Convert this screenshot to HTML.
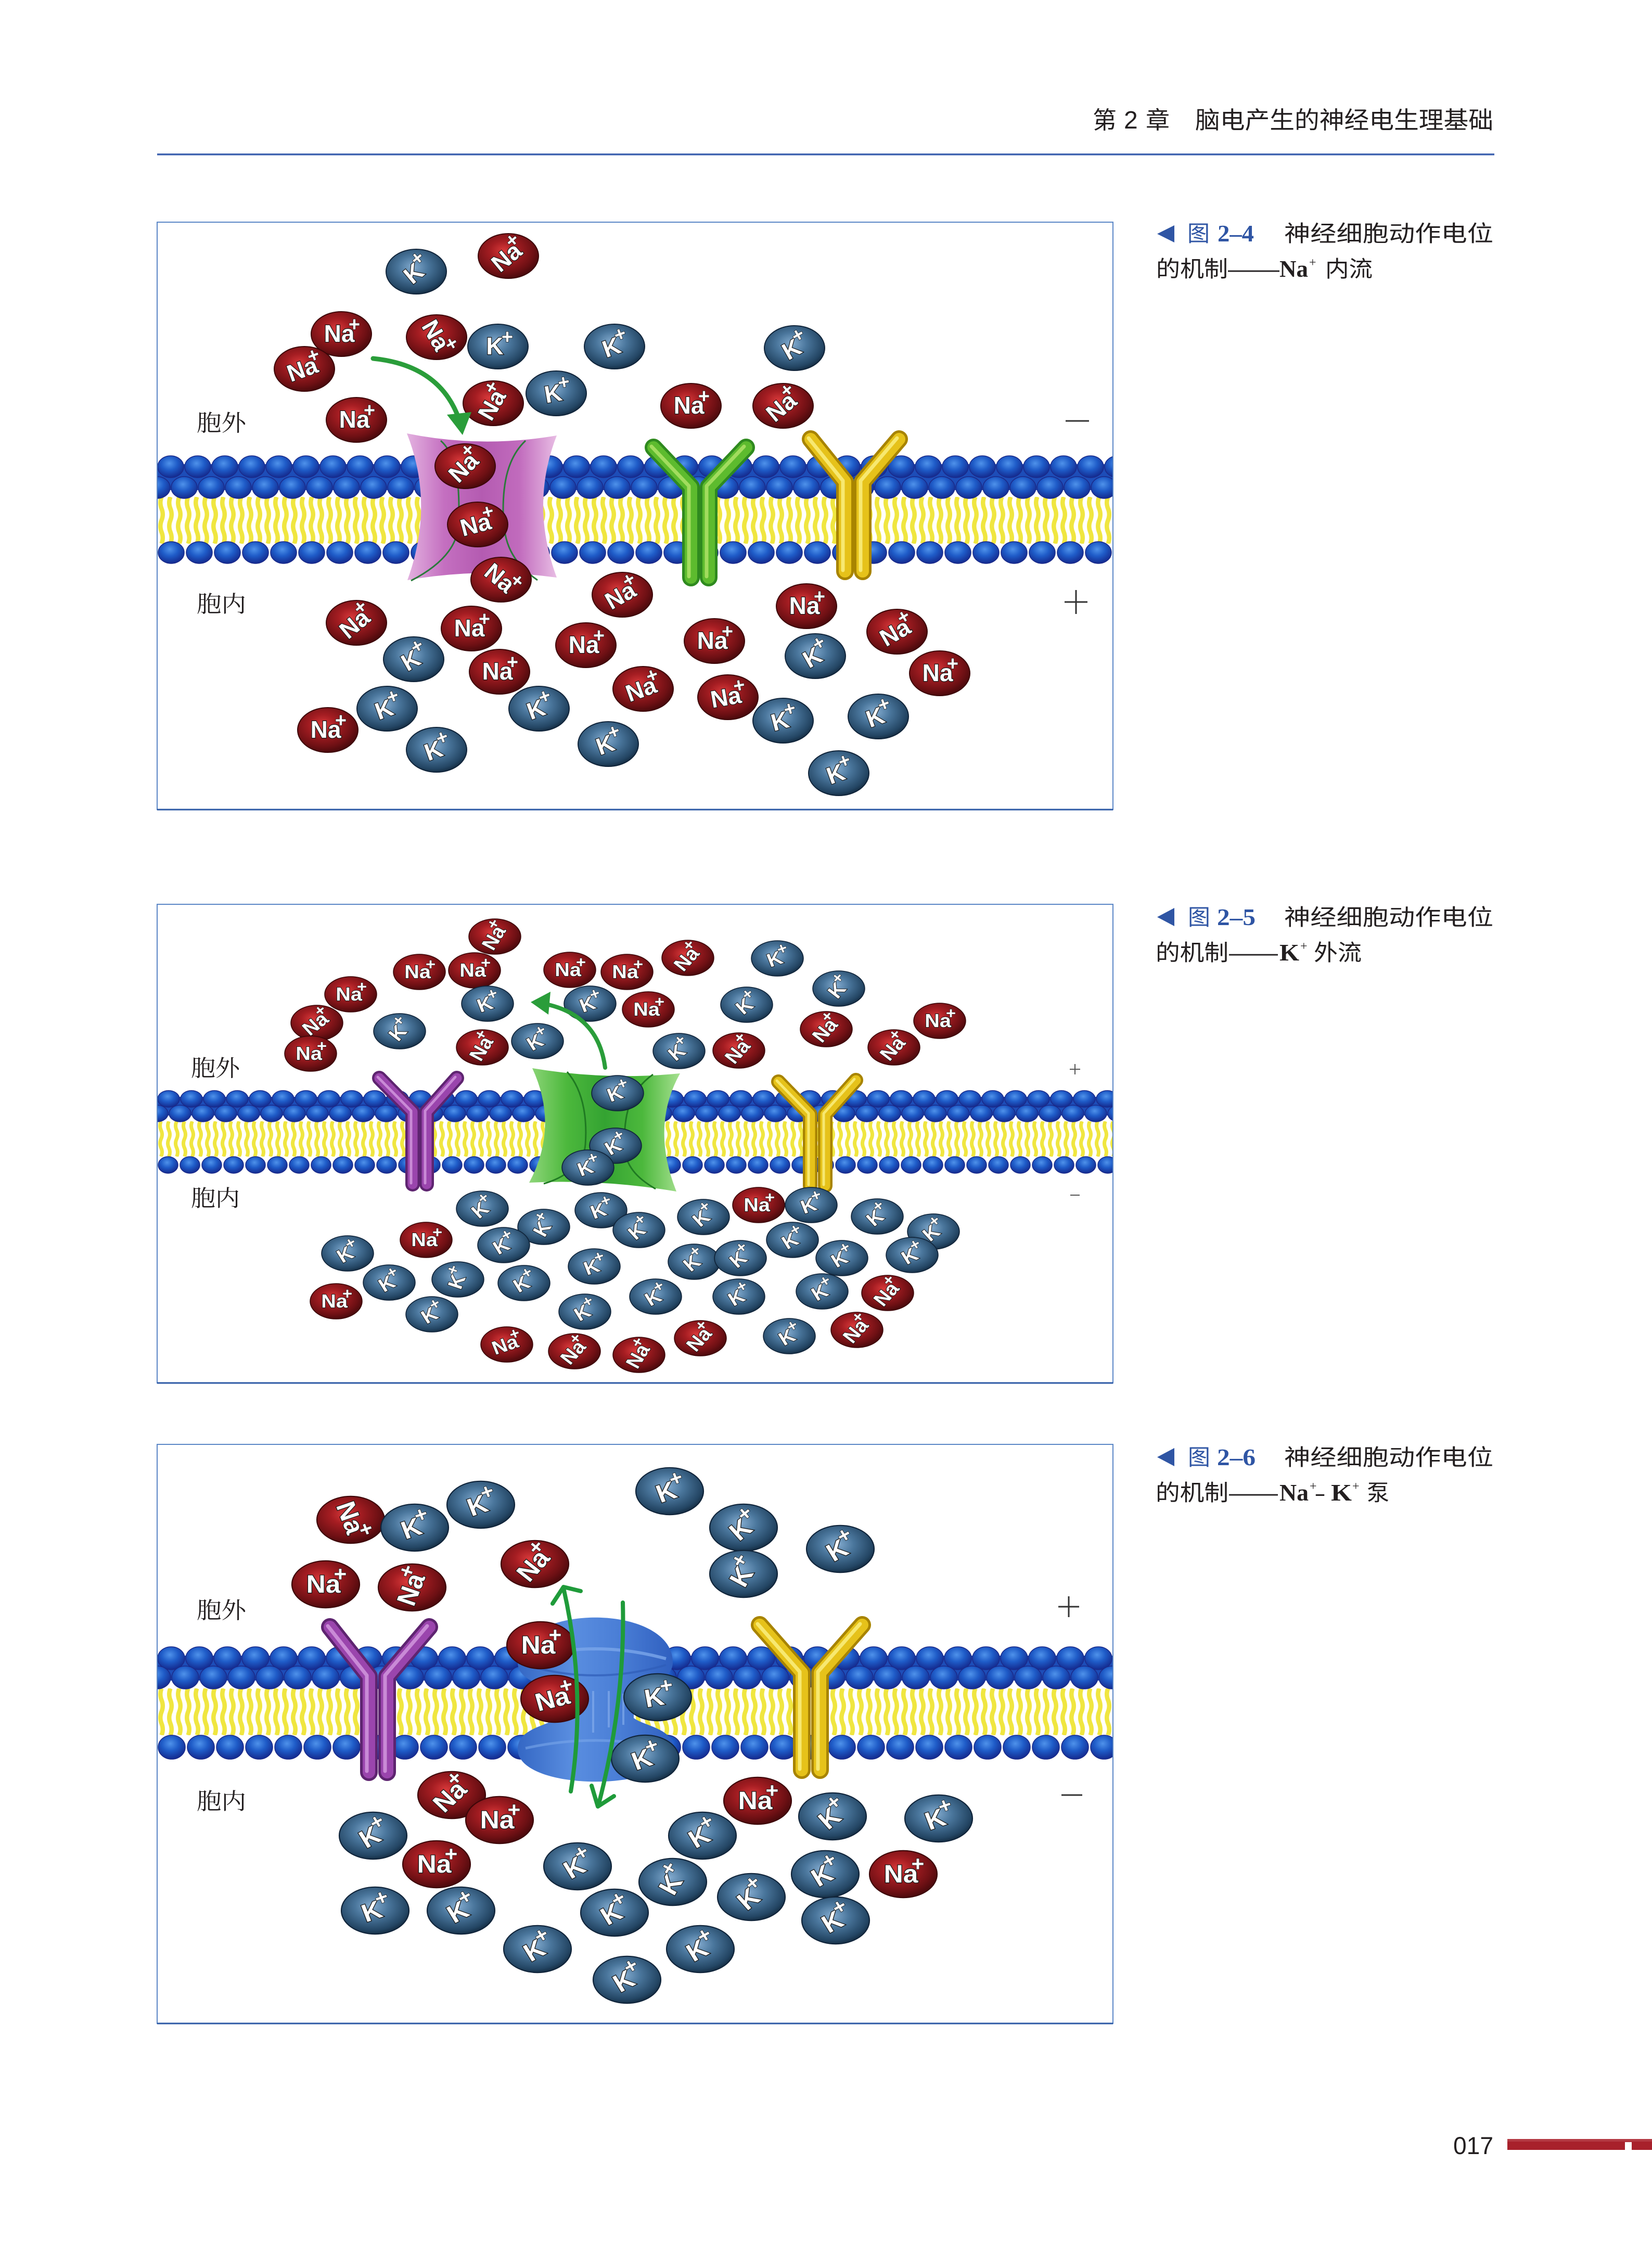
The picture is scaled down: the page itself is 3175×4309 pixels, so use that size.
<!DOCTYPE html>
<html><head><meta charset="utf-8">
<style>
html,body{margin:0;padding:0;background:#fff;}
body{width:3175px;height:4309px;overflow:hidden;}
svg{display:block;}
.na>ellipse{fill:url(#gna);stroke:#3d0709;stroke-width:2}
.k>ellipse{fill:url(#gk);stroke:#10243a;stroke-width:2}
.t{font-family:"Liberation Sans",sans-serif;font-weight:bold;font-size:46px;fill:#fff;stroke:#1a1a1a;stroke-width:2.5px;paint-order:stroke;text-anchor:middle}
.p{font-size:38px;stroke-width:1.5px}
.cj{font-family:"Liberation Sans","Noto Sans CJK SC",sans-serif;fill:#231f20}
.sg{font-family:"Liberation Serif","Noto Serif CJK SC",serif;fill:#231f20;font-size:44px}
.bl{fill:#2f55a4}
.bs{font-family:"Liberation Serif",serif;font-weight:bold}
</style></head>
<body>
<svg width="3175" height="4309" viewBox="0 0 3175 4309" xmlns="http://www.w3.org/2000/svg">
<defs>
<radialGradient id="gna" cx="0.42" cy="0.38" r="0.62"><stop offset="0" stop-color="#d8393a"/><stop offset="0.35" stop-color="#a51d22"/><stop offset="0.8" stop-color="#6e1014"/><stop offset="1" stop-color="#4e0a0d"/></radialGradient>
<radialGradient id="gk" cx="0.45" cy="0.4" r="0.62"><stop offset="0" stop-color="#84acd0"/><stop offset="0.4" stop-color="#4a769c"/><stop offset="0.85" stop-color="#234563"/><stop offset="1" stop-color="#142b40"/></radialGradient>
<radialGradient id="gb" cx="0.45" cy="0.35" r="0.62"><stop offset="0" stop-color="#4f92ea"/><stop offset="0.5" stop-color="#1f5cc8"/><stop offset="1" stop-color="#152f94"/></radialGradient>
<linearGradient id="gpink" x1="0" x2="1" y1="0" y2="0"><stop offset="0" stop-color="#e3b2e0"/><stop offset="0.25" stop-color="#c46fc0"/><stop offset="0.5" stop-color="#b45bb1"/><stop offset="0.75" stop-color="#c16bbd"/><stop offset="1" stop-color="#e8bde4"/></linearGradient>
<linearGradient id="ggreen" x1="0" x2="1" y1="0" y2="0"><stop offset="0" stop-color="#8fd67a"/><stop offset="0.25" stop-color="#4cb83c"/><stop offset="0.5" stop-color="#34a332"/><stop offset="0.75" stop-color="#4cb83c"/><stop offset="1" stop-color="#a6e090"/></linearGradient>
<linearGradient id="gpump" x1="0" x2="1" y1="0" y2="0"><stop offset="0" stop-color="#3467c4"/><stop offset="0.35" stop-color="#5a8ee0"/><stop offset="0.65" stop-color="#4a7ed6"/><stop offset="1" stop-color="#2f5fbf"/></linearGradient>

<pattern id="b1a" patternUnits="userSpaceOnUse" x="302" y="875" width="52" height="44"><ellipse cx="26" cy="22" rx="25" ry="21" fill="url(#gb)" stroke="#1a2a8a" stroke-width="1.5"/></pattern>
<pattern id="b1b" patternUnits="userSpaceOnUse" x="328" y="915" width="52" height="44"><ellipse cx="26" cy="22" rx="25" ry="21" fill="url(#gb)" stroke="#1a2a8a" stroke-width="1.5"/></pattern>
<pattern id="b1c" patternUnits="userSpaceOnUse" x="302" y="1040" width="54" height="44"><ellipse cx="27" cy="22" rx="25" ry="21" fill="url(#gb)" stroke="#1a2a8a" stroke-width="1.5"/></pattern>
<pattern id="y1" patternUnits="userSpaceOnUse" x="302" y="955" width="17" height="90"><path d="M8.5,0 Q4,11.25 8.5,22.5 T8.5,45 T8.5,67.5 T8.5,90" fill="none" stroke="#f0e640" stroke-width="8.5"/></pattern>
<pattern id="b2a" patternUnits="userSpaceOnUse" x="302" y="2095" width="44" height="34"><ellipse cx="22" cy="17" rx="21" ry="16" fill="url(#gb)" stroke="#1a2a8a" stroke-width="1.5"/></pattern>
<pattern id="b2b" patternUnits="userSpaceOnUse" x="324" y="2123" width="44" height="34"><ellipse cx="22" cy="17" rx="21" ry="16" fill="url(#gb)" stroke="#1a2a8a" stroke-width="1.5"/></pattern>
<pattern id="b2c" patternUnits="userSpaceOnUse" x="302" y="2222" width="42" height="34"><ellipse cx="21" cy="17" rx="19" ry="16" fill="url(#gb)" stroke="#1a2a8a" stroke-width="1.5"/></pattern>
<pattern id="y2" patternUnits="userSpaceOnUse" x="302" y="2155" width="15" height="68"><path d="M7.5,0 Q3.5,8.5 7.5,17 T7.5,34 T7.5,51 T7.5,68" fill="none" stroke="#f0e640" stroke-width="7"/></pattern>
<pattern id="b3a" patternUnits="userSpaceOnUse" x="302" y="3164" width="54" height="46"><ellipse cx="27" cy="23" rx="26" ry="22" fill="url(#gb)" stroke="#1a2a8a" stroke-width="1.5"/></pattern>
<pattern id="b3b" patternUnits="userSpaceOnUse" x="329" y="3201" width="54" height="46"><ellipse cx="27" cy="23" rx="26" ry="22" fill="url(#gb)" stroke="#1a2a8a" stroke-width="1.5"/></pattern>
<pattern id="b3c" patternUnits="userSpaceOnUse" x="302" y="3334" width="56" height="48"><ellipse cx="28" cy="24" rx="26" ry="23" fill="url(#gb)" stroke="#1a2a8a" stroke-width="1.5"/></pattern>
<pattern id="y3" patternUnits="userSpaceOnUse" x="302" y="3245" width="17" height="90"><path d="M8.5,0 Q4,11.25 8.5,22.5 T8.5,45 T8.5,67.5 T8.5,90" fill="none" stroke="#f0e640" stroke-width="8.5"/></pattern>

<clipPath id="c1"><rect x="303" y="428" width="1835" height="1127"/></clipPath>
<clipPath id="c2"><rect x="303" y="1739" width="1835" height="918"/></clipPath>
<clipPath id="c3"><rect x="303" y="2777" width="1835" height="1112"/></clipPath>
</defs>

<!-- ===== Header ===== -->
<text class="cj" x="2100" y="247" font-size="46">第</text>
<text x="2160" y="247" font-size="48" font-family="Liberation Sans, sans-serif" fill="#231f20">2</text>
<text class="cj" x="2202" y="247" font-size="46">章</text>
<text class="cj" x="2297" y="247" font-size="46" textLength="573" lengthAdjust="spacingAndGlyphs">脑电产生的神经电生理基础</text>
<rect x="302" y="295" width="2570" height="3.5" fill="#3f63b0"/>

<!-- ===== Captions ===== -->
<g>
<polygon points="2257,433 2257,466 2224,449.5" fill="#2f55a4"/>
<text class="cj bl" x="2282" y="464" font-size="43" style="fill:#2f55a4">图</text>
<text class="bs" x="2340" y="464" font-size="46" fill="#2f55a4" textLength="70" lengthAdjust="spacingAndGlyphs">2–4</text>
<text class="cj" x="2468" y="464" font-size="43" textLength="402" lengthAdjust="spacingAndGlyphs">神经细胞动作电位</text>
<text class="cj" x="2222" y="532" font-size="43" textLength="138" lengthAdjust="spacingAndGlyphs">的机制</text>
<text x="2360" y="532" font-size="43" font-family="Liberation Sans, sans-serif" fill="#231f20" textLength="99" lengthAdjust="spacingAndGlyphs">——</text>
<text class="bs" x="2459" y="532" font-size="46" fill="#231f20" textLength="55" lengthAdjust="spacingAndGlyphs">Na</text>
<text x="2516" y="512" font-size="24" font-family="Liberation Serif, serif" fill="#231f20">+</text>
<text class="cj" x="2547" y="532" font-size="43" textLength="91" lengthAdjust="spacingAndGlyphs">内流</text>
</g>
<g>
<polygon points="2257,1745 2257,1780 2224,1762.5" fill="#2f55a4"/>
<text class="cj" x="2283" y="1778" font-size="43" style="fill:#2f55a4">图</text>
<text class="bs" x="2339" y="1778" font-size="46" fill="#2f55a4" textLength="74" lengthAdjust="spacingAndGlyphs">2–5</text>
<text class="cj" x="2468" y="1778" font-size="43" textLength="402" lengthAdjust="spacingAndGlyphs">神经细胞动作电位</text>
<text class="cj" x="2221" y="1846" font-size="43" textLength="140" lengthAdjust="spacingAndGlyphs">的机制</text>
<text x="2362" y="1846" font-size="43" font-family="Liberation Sans, sans-serif" fill="#231f20" textLength="94" lengthAdjust="spacingAndGlyphs">——</text>
<text class="bs" x="2459" y="1846" font-size="46" fill="#231f20" textLength="38" lengthAdjust="spacingAndGlyphs">K</text>
<text x="2499" y="1826" font-size="24" font-family="Liberation Serif, serif" fill="#231f20">+</text>
<text class="cj" x="2525" y="1846" font-size="43" textLength="92" lengthAdjust="spacingAndGlyphs">外流</text>
</g>
<g>
<polygon points="2257,2783 2257,2818 2224,2800.5" fill="#2f55a4"/>
<text class="cj" x="2283" y="2816" font-size="43" style="fill:#2f55a4">图</text>
<text class="bs" x="2339" y="2816" font-size="46" fill="#2f55a4" textLength="74" lengthAdjust="spacingAndGlyphs">2–6</text>
<text class="cj" x="2468" y="2816" font-size="43" textLength="402" lengthAdjust="spacingAndGlyphs">神经细胞动作电位</text>
<text class="cj" x="2221" y="2884" font-size="43" textLength="140" lengthAdjust="spacingAndGlyphs">的机制</text>
<text x="2362" y="2884" font-size="43" font-family="Liberation Sans, sans-serif" fill="#231f20" textLength="94" lengthAdjust="spacingAndGlyphs">——</text>
<text class="bs" x="2459" y="2884" font-size="46" fill="#231f20" textLength="56" lengthAdjust="spacingAndGlyphs">Na</text>
<text x="2517" y="2864" font-size="24" font-family="Liberation Serif, serif" fill="#231f20">+</text>
<text class="bs" x="2529" y="2884" font-size="46" fill="#231f20" textLength="16" lengthAdjust="spacingAndGlyphs">–</text>
<text class="bs" x="2558" y="2884" font-size="46" fill="#231f20" textLength="40" lengthAdjust="spacingAndGlyphs">K</text>
<text x="2599" y="2864" font-size="24" font-family="Liberation Serif, serif" fill="#231f20">+</text>
<text class="cj" x="2627" y="2884" font-size="43">泵</text>
</g>

<!-- ===== Footer ===== -->
<text x="2793" y="4140" font-size="47" font-family="Liberation Sans, sans-serif" fill="#231f20" textLength="77" lengthAdjust="spacingAndGlyphs">017</text>
<rect x="2897" y="4111" width="278" height="21" fill="#a8212b"/>
<rect x="2897" y="4111" width="278" height="5" fill="#c0545b" opacity="0.5"/>
<rect x="3123" y="4117" width="13" height="15" fill="#fff"/>

<!-- ================= BOX 1 ================= -->
<rect x="302" y="427" width="1837" height="1129" fill="#fff" stroke="#5a86c6" stroke-width="2"/>
<line x1="302" y1="1556" x2="2139" y2="1556" stroke="#2d5aa6" stroke-width="3"/>
<g clip-path="url(#c1)">
<rect x="302" y="955" width="1836" height="90" fill="url(#y1)"/>
<rect x="302" y="892" width="1836" height="50" fill="#1d4db8"/>
<rect x="302" y="875" width="1836" height="44" fill="url(#b1a)"/>
<rect x="302" y="915" width="1836" height="44" fill="url(#b1b)"/>
<rect x="302" y="1040" width="1836" height="44" fill="url(#b1c)"/>
</g>
<path d="M782,833 Q925,862 1070,837 Q1018,970 1070,1110 Q925,1090 783,1115 Q836,970 782,833 Z" fill="url(#gpink)"/>
<path d="M847,847 C885,880 882,960 882,1000 C882,1040 860,1080 790,1116" fill="none" stroke="#2a7a3a" stroke-width="3"/>
<path d="M1010,847 C975,880 967,930 967,980 C967,1030 975,1075 1033,1115" fill="none" stroke="#2a7a3a" stroke-width="3"/>
<g fill="none" stroke-linecap="round" stroke-linejoin="round">
<path d="M1256,860 L1328,936 L1328,1110" stroke="#2f8a1f" stroke-width="34"/>
<path d="M1434,860 L1362,936 L1362,1110" stroke="#2f8a1f" stroke-width="34"/>
<path d="M1256,860 L1328,936 L1328,1110" stroke="#5dbb2e" stroke-width="24"/>
<path d="M1434,860 L1362,936 L1362,1110" stroke="#5dbb2e" stroke-width="24"/>
<path d="M1252,858 L1324,934 L1324,1108" stroke="#a2dc5e" stroke-width="7"/>
<path d="M1430,858 L1358,934 L1358,1108" stroke="#a2dc5e" stroke-width="7"/>
<path d="M1558,844 L1624,926 L1624,1098" stroke="#a88400" stroke-width="34"/>
<path d="M1728,844 L1658,926 L1658,1098" stroke="#a88400" stroke-width="34"/>
<path d="M1558,844 L1624,926 L1624,1098" stroke="#e6c21a" stroke-width="24"/>
<path d="M1728,844 L1658,926 L1658,1098" stroke="#e6c21a" stroke-width="24"/>
<path d="M1554,842 L1620,924 L1620,1096" stroke="#f7e870" stroke-width="7"/>
<path d="M1724,842 L1654,924 L1654,1096" stroke="#f7e870" stroke-width="7"/>
</g>
<text class="sg" x="378" y="828" textLength="95" lengthAdjust="spacingAndGlyphs">胞外</text>
<text class="sg" x="378" y="1176" textLength="95" lengthAdjust="spacingAndGlyphs">胞内</text>
<line x1="2048" y1="809" x2="2093" y2="809" stroke="#333" stroke-width="3"/>
<line x1="2046" y1="1157" x2="2090" y2="1157" stroke="#333" stroke-width="3"/>
<line x1="2068" y1="1134" x2="2068" y2="1180" stroke="#333" stroke-width="3"/>

<g class="k" transform="translate(800,522)"><ellipse rx="58" ry="43"/><g transform="rotate(-40)"><text class="t" x="-6" y="15">K</text><text class="t p" x="18" y="-6">+</text></g></g>
<g class="na" transform="translate(977,492)"><ellipse rx="58" ry="43"/><g transform="rotate(-40)"><text class="t" x="-4" y="15">Na</text><text class="t p" x="25" y="-6">+</text></g></g>
<g class="na" transform="translate(656,642)"><ellipse rx="58" ry="43"/><g><text class="t" x="-4" y="15">Na</text><text class="t p" x="25" y="-6">+</text></g></g>
<g class="na" transform="translate(585,709)"><ellipse rx="58" ry="43"/><g transform="rotate(-20)"><text class="t" x="-4" y="15">Na</text><text class="t p" x="25" y="-6">+</text></g></g>
<g class="na" transform="translate(839,648)"><ellipse rx="58" ry="43"/><g transform="rotate(60)"><text class="t" x="-4" y="15">Na</text><text class="t p" x="25" y="-6">+</text></g></g>
<g class="k" transform="translate(957,666)"><ellipse rx="58" ry="43"/><g><text class="t" x="-6" y="15">K</text><text class="t p" x="18" y="-6">+</text></g></g>
<g class="k" transform="translate(1181,666)"><ellipse rx="58" ry="43"/><g transform="rotate(-20)"><text class="t" x="-6" y="15">K</text><text class="t p" x="18" y="-6">+</text></g></g>
<g class="k" transform="translate(1527,669)"><ellipse rx="58" ry="43"/><g transform="rotate(-30)"><text class="t" x="-6" y="15">K</text><text class="t p" x="18" y="-6">+</text></g></g>
<g class="k" transform="translate(1069,756)"><ellipse rx="58" ry="43"/><g transform="rotate(-10)"><text class="t" x="-6" y="15">K</text><text class="t p" x="18" y="-6">+</text></g></g>
<g class="na" transform="translate(948,775)"><ellipse rx="58" ry="43"/><g transform="rotate(-60)"><text class="t" x="-4" y="15">Na</text><text class="t p" x="25" y="-6">+</text></g></g>
<g class="na" transform="translate(685,807)"><ellipse rx="58" ry="43"/><g><text class="t" x="-4" y="15">Na</text><text class="t p" x="25" y="-6">+</text></g></g>
<g class="na" transform="translate(1328,780)"><ellipse rx="58" ry="43"/><g><text class="t" x="-4" y="15">Na</text><text class="t p" x="25" y="-6">+</text></g></g>
<g class="na" transform="translate(1505,780)"><ellipse rx="58" ry="43"/><g transform="rotate(-40)"><text class="t" x="-4" y="15">Na</text><text class="t p" x="25" y="-6">+</text></g></g>
<g class="na" transform="translate(894,896)"><ellipse rx="58" ry="43"/><g transform="rotate(-45)"><text class="t" x="-4" y="15">Na</text><text class="t p" x="25" y="-6">+</text></g></g>
<g class="na" transform="translate(918,1008)"><ellipse rx="58" ry="43"/><g transform="rotate(-15)"><text class="t" x="-4" y="15">Na</text><text class="t p" x="25" y="-6">+</text></g></g>
<g class="na" transform="translate(963,1114)"><ellipse rx="58" ry="43"/><g transform="rotate(40)"><text class="t" x="-4" y="15">Na</text><text class="t p" x="25" y="-6">+</text></g></g>
<g class="na" transform="translate(1196,1143)"><ellipse rx="58" ry="43"/><g transform="rotate(-30)"><text class="t" x="-4" y="15">Na</text><text class="t p" x="25" y="-6">+</text></g></g>
<g class="na" transform="translate(1550,1165)"><ellipse rx="58" ry="43"/><g><text class="t" x="-4" y="15">Na</text><text class="t p" x="25" y="-6">+</text></g></g>
<g class="na" transform="translate(685,1197)"><ellipse rx="58" ry="43"/><g transform="rotate(-40)"><text class="t" x="-4" y="15">Na</text><text class="t p" x="25" y="-6">+</text></g></g>
<g class="na" transform="translate(906,1208)"><ellipse rx="58" ry="43"/><g><text class="t" x="-4" y="15">Na</text><text class="t p" x="25" y="-6">+</text></g></g>
<g class="na" transform="translate(1724,1214)"><ellipse rx="58" ry="43"/><g transform="rotate(-30)"><text class="t" x="-4" y="15">Na</text><text class="t p" x="25" y="-6">+</text></g></g>
<g class="na" transform="translate(1126,1240)"><ellipse rx="58" ry="43"/><g><text class="t" x="-4" y="15">Na</text><text class="t p" x="25" y="-6">+</text></g></g>
<g class="na" transform="translate(1373,1232)"><ellipse rx="58" ry="43"/><g><text class="t" x="-4" y="15">Na</text><text class="t p" x="25" y="-6">+</text></g></g>
<g class="k" transform="translate(795,1267)"><ellipse rx="58" ry="43"/><g transform="rotate(-30)"><text class="t" x="-6" y="15">K</text><text class="t p" x="18" y="-6">+</text></g></g>
<g class="k" transform="translate(1567,1261)"><ellipse rx="58" ry="43"/><g transform="rotate(-30)"><text class="t" x="-6" y="15">K</text><text class="t p" x="18" y="-6">+</text></g></g>
<g class="na" transform="translate(960,1291)"><ellipse rx="58" ry="43"/><g><text class="t" x="-4" y="15">Na</text><text class="t p" x="25" y="-6">+</text></g></g>
<g class="na" transform="translate(1806,1294)"><ellipse rx="58" ry="43"/><g><text class="t" x="-4" y="15">Na</text><text class="t p" x="25" y="-6">+</text></g></g>
<g class="na" transform="translate(1236,1324)"><ellipse rx="58" ry="43"/><g transform="rotate(-20)"><text class="t" x="-4" y="15">Na</text><text class="t p" x="25" y="-6">+</text></g></g>
<g class="na" transform="translate(1399,1340)"><ellipse rx="58" ry="43"/><g transform="rotate(-10)"><text class="t" x="-4" y="15">Na</text><text class="t p" x="25" y="-6">+</text></g></g>
<g class="k" transform="translate(744,1362)"><ellipse rx="58" ry="43"/><g transform="rotate(-20)"><text class="t" x="-6" y="15">K</text><text class="t p" x="18" y="-6">+</text></g></g>
<g class="k" transform="translate(1036,1362)"><ellipse rx="58" ry="43"/><g transform="rotate(-20)"><text class="t" x="-6" y="15">K</text><text class="t p" x="18" y="-6">+</text></g></g>
<g class="k" transform="translate(1505,1385)"><ellipse rx="58" ry="43"/><g transform="rotate(-15)"><text class="t" x="-6" y="15">K</text><text class="t p" x="18" y="-6">+</text></g></g>
<g class="k" transform="translate(1688,1377)"><ellipse rx="58" ry="43"/><g transform="rotate(-20)"><text class="t" x="-6" y="15">K</text><text class="t p" x="18" y="-6">+</text></g></g>
<g class="na" transform="translate(630,1403)"><ellipse rx="58" ry="43"/><g><text class="t" x="-4" y="15">Na</text><text class="t p" x="25" y="-6">+</text></g></g>
<g class="k" transform="translate(839,1441)"><ellipse rx="58" ry="43"/><g transform="rotate(-20)"><text class="t" x="-6" y="15">K</text><text class="t p" x="18" y="-6">+</text></g></g>
<g class="k" transform="translate(1169,1430)"><ellipse rx="58" ry="43"/><g transform="rotate(-20)"><text class="t" x="-6" y="15">K</text><text class="t p" x="18" y="-6">+</text></g></g>
<g class="k" transform="translate(1612,1486)"><ellipse rx="58" ry="43"/><g transform="rotate(-20)"><text class="t" x="-6" y="15">K</text><text class="t p" x="18" y="-6">+</text></g></g>
<path d="M717,689 Q845,702 882,805" fill="none" stroke="#2a9d3a" stroke-width="9" stroke-linecap="round"/>
<polygon points="889,836 859,797 906,792" fill="#2a9d3a"/>

<!-- ================= BOX 2 ================= -->
<rect x="302" y="1738" width="1837" height="920" fill="#fff" stroke="#5a86c6" stroke-width="2"/>
<line x1="302" y1="2658" x2="2139" y2="2658" stroke="#2d5aa6" stroke-width="3"/>
<g clip-path="url(#c2)">
<rect x="302" y="2155" width="1836" height="68" fill="url(#y2)"/>
<rect x="302" y="2108" width="1836" height="36" fill="#1d4db8"/>
<rect x="302" y="2095" width="1836" height="34" fill="url(#b2a)"/>
<rect x="302" y="2123" width="1836" height="34" fill="url(#b2b)"/>
<rect x="302" y="2222" width="1836" height="34" fill="url(#b2c)"/>
</g>
<path d="M1023,2053 Q1165,2077 1307,2063 Q1250,2165 1300,2290 Q1160,2266 1017,2273 Q1075,2165 1023,2053 Z" fill="url(#ggreen)"/>
<path d="M1090,2060 C1125,2100 1128,2160 1125,2200 C1122,2240 1080,2265 1045,2275" fill="none" stroke="#1f7a22" stroke-width="3"/>
<path d="M1255,2065 C1205,2100 1200,2150 1200,2200 C1200,2240 1225,2265 1260,2285" fill="none" stroke="#1f7a22" stroke-width="3"/>
<g fill="none" stroke-linecap="round" stroke-linejoin="round">
<path d="M729,2072 L793,2137 L793,2276" stroke="#5e2470" stroke-width="28"/>
<path d="M878,2072 L820,2137 L820,2276" stroke="#5e2470" stroke-width="28"/>
<path d="M729,2072 L793,2137 L793,2276" stroke="#9a45ad" stroke-width="19"/>
<path d="M878,2072 L820,2137 L820,2276" stroke="#9a45ad" stroke-width="19"/>
<path d="M726,2070 L790,2135 L790,2274" stroke="#c98ad6" stroke-width="5"/>
<path d="M875,2070 L817,2135 L817,2274" stroke="#c98ad6" stroke-width="5"/>
<path d="M1496,2079 L1557,2142 L1557,2279" stroke="#a88400" stroke-width="28"/>
<path d="M1645,2076 L1586,2142 L1586,2279" stroke="#a88400" stroke-width="28"/>
<path d="M1496,2079 L1557,2142 L1557,2279" stroke="#e6c21a" stroke-width="19"/>
<path d="M1645,2076 L1586,2142 L1586,2279" stroke="#e6c21a" stroke-width="19"/>
<path d="M1493,2077 L1554,2140 L1554,2277" stroke="#f7e870" stroke-width="5"/>
<path d="M1642,2074 L1583,2140 L1583,2277" stroke="#f7e870" stroke-width="5"/>
</g>
<text class="sg" x="367" y="2068" textLength="94" lengthAdjust="spacingAndGlyphs">胞外</text>
<text class="sg" x="367" y="2318" textLength="94" lengthAdjust="spacingAndGlyphs">胞内</text>
<line x1="2056" y1="2055" x2="2076" y2="2055" stroke="#555" stroke-width="2"/>
<line x1="2066" y1="2045" x2="2066" y2="2065" stroke="#555" stroke-width="2"/>
<line x1="2057" y1="2297" x2="2075" y2="2297" stroke="#555" stroke-width="2"/>

<g class="na" transform="translate(951,1800) scale(.86,.79)"><ellipse rx="58" ry="43"/><g transform="rotate(-60)"><text class="t" x="-4" y="15">Na</text><text class="t p" x="25" y="-6">+</text></g></g>
<g class="na" transform="translate(806,1868) scale(.86,.79)"><ellipse rx="58" ry="43"/><g><text class="t" x="-4" y="15">Na</text><text class="t p" x="25" y="-6">+</text></g></g>
<g class="na" transform="translate(912,1865) scale(.86,.79)"><ellipse rx="58" ry="43"/><g><text class="t" x="-4" y="15">Na</text><text class="t p" x="25" y="-6">+</text></g></g>
<g class="na" transform="translate(1095,1864) scale(.86,.79)"><ellipse rx="58" ry="43"/><g><text class="t" x="-4" y="15">Na</text><text class="t p" x="25" y="-6">+</text></g></g>
<g class="na" transform="translate(1205,1868) scale(.86,.79)"><ellipse rx="58" ry="43"/><g><text class="t" x="-4" y="15">Na</text><text class="t p" x="25" y="-6">+</text></g></g>
<g class="na" transform="translate(1322,1841) scale(.86,.79)"><ellipse rx="58" ry="43"/><g transform="rotate(-50)"><text class="t" x="-4" y="15">Na</text><text class="t p" x="25" y="-6">+</text></g></g>
<g class="k" transform="translate(1494,1842) scale(.86,.79)"><ellipse rx="58" ry="43"/><g transform="rotate(-20)"><text class="t" x="-6" y="15">K</text><text class="t p" x="18" y="-6">+</text></g></g>
<g class="na" transform="translate(674,1911) scale(.86,.79)"><ellipse rx="58" ry="43"/><g><text class="t" x="-4" y="15">Na</text><text class="t p" x="25" y="-6">+</text></g></g>
<g class="k" transform="translate(937,1929) scale(.86,.79)"><ellipse rx="58" ry="43"/><g transform="rotate(-20)"><text class="t" x="-6" y="15">K</text><text class="t p" x="18" y="-6">+</text></g></g>
<g class="k" transform="translate(1134,1929) scale(.86,.79)"><ellipse rx="58" ry="43"/><g transform="rotate(-20)"><text class="t" x="-6" y="15">K</text><text class="t p" x="18" y="-6">+</text></g></g>
<g class="na" transform="translate(1246,1940) scale(.86,.79)"><ellipse rx="58" ry="43"/><g><text class="t" x="-4" y="15">Na</text><text class="t p" x="25" y="-6">+</text></g></g>
<g class="k" transform="translate(1435,1931) scale(.86,.79)"><ellipse rx="58" ry="43"/><g transform="rotate(-40)"><text class="t" x="-6" y="15">K</text><text class="t p" x="18" y="-6">+</text></g></g>
<g class="k" transform="translate(1612,1900) scale(.86,.79)"><ellipse rx="58" ry="43"/><g transform="rotate(-50)"><text class="t" x="-6" y="15">K</text><text class="t p" x="18" y="-6">+</text></g></g>
<g class="na" transform="translate(609,1966) scale(.86,.79)"><ellipse rx="58" ry="43"/><g transform="rotate(-40)"><text class="t" x="-4" y="15">Na</text><text class="t p" x="25" y="-6">+</text></g></g>
<g class="k" transform="translate(768,1982) scale(.86,.79)"><ellipse rx="58" ry="43"/><g transform="rotate(-50)"><text class="t" x="-6" y="15">K</text><text class="t p" x="18" y="-6">+</text></g></g>
<g class="na" transform="translate(927,2013) scale(.86,.79)"><ellipse rx="58" ry="43"/><g transform="rotate(-60)"><text class="t" x="-4" y="15">Na</text><text class="t p" x="25" y="-6">+</text></g></g>
<g class="k" transform="translate(1033,2001) scale(.86,.79)"><ellipse rx="58" ry="43"/><g transform="rotate(-30)"><text class="t" x="-6" y="15">K</text><text class="t p" x="18" y="-6">+</text></g></g>
<g class="k" transform="translate(1305,2020) scale(.86,.79)"><ellipse rx="58" ry="43"/><g transform="rotate(-40)"><text class="t" x="-6" y="15">K</text><text class="t p" x="18" y="-6">+</text></g></g>
<g class="na" transform="translate(1420,2019) scale(.86,.79)"><ellipse rx="58" ry="43"/><g transform="rotate(-50)"><text class="t" x="-4" y="15">Na</text><text class="t p" x="25" y="-6">+</text></g></g>
<g class="na" transform="translate(597,2025) scale(.86,.79)"><ellipse rx="58" ry="43"/><g><text class="t" x="-4" y="15">Na</text><text class="t p" x="25" y="-6">+</text></g></g>
<g class="na" transform="translate(1588,1978) scale(.86,.79)"><ellipse rx="58" ry="43"/><g transform="rotate(-50)"><text class="t" x="-4" y="15">Na</text><text class="t p" x="25" y="-6">+</text></g></g>
<g class="na" transform="translate(1806,1962) scale(.86,.79)"><ellipse rx="58" ry="43"/><g><text class="t" x="-4" y="15">Na</text><text class="t p" x="25" y="-6">+</text></g></g>
<g class="na" transform="translate(1718,2013) scale(.86,.79)"><ellipse rx="58" ry="43"/><g transform="rotate(-50)"><text class="t" x="-4" y="15">Na</text><text class="t p" x="25" y="-6">+</text></g></g>
<g class="k" transform="translate(1187,2101) scale(.86,.79)"><ellipse rx="58" ry="43"/><g transform="rotate(-20)"><text class="t" x="-6" y="15">K</text><text class="t p" x="18" y="-6">+</text></g></g>
<g class="k" transform="translate(1183,2202) scale(.86,.79)"><ellipse rx="58" ry="43"/><g transform="rotate(-30)"><text class="t" x="-6" y="15">K</text><text class="t p" x="18" y="-6">+</text></g></g>
<g class="k" transform="translate(1130,2244) scale(.86,.79)"><ellipse rx="58" ry="43"/><g transform="rotate(-20)"><text class="t" x="-6" y="15">K</text><text class="t p" x="18" y="-6">+</text></g></g>
<g class="k" transform="translate(927,2323) scale(.86,.79)"><ellipse rx="58" ry="43"/><g transform="rotate(-40)"><text class="t" x="-6" y="15">K</text><text class="t p" x="18" y="-6">+</text></g></g>
<g class="k" transform="translate(1155,2326) scale(.86,.79)"><ellipse rx="58" ry="43"/><g transform="rotate(-20)"><text class="t" x="-6" y="15">K</text><text class="t p" x="18" y="-6">+</text></g></g>
<g class="k" transform="translate(1228,2364) scale(.86,.79)"><ellipse rx="58" ry="43"/><g transform="rotate(-40)"><text class="t" x="-6" y="15">K</text><text class="t p" x="18" y="-6">+</text></g></g>
<g class="k" transform="translate(1352,2339) scale(.86,.79)"><ellipse rx="58" ry="43"/><g transform="rotate(-40)"><text class="t" x="-6" y="15">K</text><text class="t p" x="18" y="-6">+</text></g></g>
<g class="na" transform="translate(1458,2316) scale(.86,.79)"><ellipse rx="58" ry="43"/><g><text class="t" x="-4" y="15">Na</text><text class="t p" x="25" y="-6">+</text></g></g>
<g class="k" transform="translate(1559,2316) scale(.86,.79)"><ellipse rx="58" ry="43"/><g transform="rotate(-20)"><text class="t" x="-6" y="15">K</text><text class="t p" x="18" y="-6">+</text></g></g>
<g class="k" transform="translate(1686,2338) scale(.86,.79)"><ellipse rx="58" ry="43"/><g transform="rotate(-40)"><text class="t" x="-6" y="15">K</text><text class="t p" x="18" y="-6">+</text></g></g>
<g class="k" transform="translate(1045,2358) scale(.86,.79)"><ellipse rx="58" ry="43"/><g transform="rotate(-60)"><text class="t" x="-6" y="15">K</text><text class="t p" x="18" y="-6">+</text></g></g>
<g class="na" transform="translate(819,2383) scale(.86,.79)"><ellipse rx="58" ry="43"/><g><text class="t" x="-4" y="15">Na</text><text class="t p" x="25" y="-6">+</text></g></g>
<g class="k" transform="translate(968,2393) scale(.86,.79)"><ellipse rx="58" ry="43"/><g transform="rotate(-30)"><text class="t" x="-6" y="15">K</text><text class="t p" x="18" y="-6">+</text></g></g>
<g class="k" transform="translate(1523,2383) scale(.86,.79)"><ellipse rx="58" ry="43"/><g transform="rotate(-30)"><text class="t" x="-6" y="15">K</text><text class="t p" x="18" y="-6">+</text></g></g>
<g class="k" transform="translate(1794,2367) scale(.86,.79)"><ellipse rx="58" ry="43"/><g transform="rotate(-40)"><text class="t" x="-6" y="15">K</text><text class="t p" x="18" y="-6">+</text></g></g>
<g class="k" transform="translate(668,2409) scale(.86,.79)"><ellipse rx="58" ry="43"/><g transform="rotate(-30)"><text class="t" x="-6" y="15">K</text><text class="t p" x="18" y="-6">+</text></g></g>
<g class="k" transform="translate(1334,2425) scale(.86,.79)"><ellipse rx="58" ry="43"/><g transform="rotate(-40)"><text class="t" x="-6" y="15">K</text><text class="t p" x="18" y="-6">+</text></g></g>
<g class="k" transform="translate(1423,2418) scale(.86,.79)"><ellipse rx="58" ry="43"/><g transform="rotate(-40)"><text class="t" x="-6" y="15">K</text><text class="t p" x="18" y="-6">+</text></g></g>
<g class="k" transform="translate(1618,2418) scale(.86,.79)"><ellipse rx="58" ry="43"/><g transform="rotate(-30)"><text class="t" x="-6" y="15">K</text><text class="t p" x="18" y="-6">+</text></g></g>
<g class="k" transform="translate(1753,2412) scale(.86,.79)"><ellipse rx="58" ry="43"/><g transform="rotate(-30)"><text class="t" x="-6" y="15">K</text><text class="t p" x="18" y="-6">+</text></g></g>
<g class="k" transform="translate(1142,2434) scale(.86,.79)"><ellipse rx="58" ry="43"/><g transform="rotate(-20)"><text class="t" x="-6" y="15">K</text><text class="t p" x="18" y="-6">+</text></g></g>
<g class="k" transform="translate(748,2465) scale(.86,.79)"><ellipse rx="58" ry="43"/><g transform="rotate(-30)"><text class="t" x="-6" y="15">K</text><text class="t p" x="18" y="-6">+</text></g></g>
<g class="k" transform="translate(880,2459) scale(.86,.79)"><ellipse rx="58" ry="43"/><g transform="rotate(-70)"><text class="t" x="-6" y="15">K</text><text class="t p" x="18" y="-6">+</text></g></g>
<g class="k" transform="translate(1007,2466) scale(.86,.79)"><ellipse rx="58" ry="43"/><g transform="rotate(-30)"><text class="t" x="-6" y="15">K</text><text class="t p" x="18" y="-6">+</text></g></g>
<g class="k" transform="translate(1260,2492) scale(.86,.79)"><ellipse rx="58" ry="43"/><g transform="rotate(-30)"><text class="t" x="-6" y="15">K</text><text class="t p" x="18" y="-6">+</text></g></g>
<g class="k" transform="translate(1420,2492) scale(.86,.79)"><ellipse rx="58" ry="43"/><g transform="rotate(-30)"><text class="t" x="-6" y="15">K</text><text class="t p" x="18" y="-6">+</text></g></g>
<g class="k" transform="translate(1580,2482) scale(.86,.79)"><ellipse rx="58" ry="43"/><g transform="rotate(-30)"><text class="t" x="-6" y="15">K</text><text class="t p" x="18" y="-6">+</text></g></g>
<g class="na" transform="translate(1706,2485) scale(.86,.79)"><ellipse rx="58" ry="43"/><g transform="rotate(-50)"><text class="t" x="-4" y="15">Na</text><text class="t p" x="25" y="-6">+</text></g></g>
<g class="na" transform="translate(646,2501) scale(.86,.79)"><ellipse rx="58" ry="43"/><g><text class="t" x="-4" y="15">Na</text><text class="t p" x="25" y="-6">+</text></g></g>
<g class="k" transform="translate(830,2526) scale(.86,.79)"><ellipse rx="58" ry="43"/><g transform="rotate(-30)"><text class="t" x="-6" y="15">K</text><text class="t p" x="18" y="-6">+</text></g></g>
<g class="k" transform="translate(1124,2521) scale(.86,.79)"><ellipse rx="58" ry="43"/><g transform="rotate(-30)"><text class="t" x="-6" y="15">K</text><text class="t p" x="18" y="-6">+</text></g></g>
<g class="na" transform="translate(974,2584) scale(.86,.79)"><ellipse rx="58" ry="43"/><g transform="rotate(-20)"><text class="t" x="-4" y="15">Na</text><text class="t p" x="25" y="-6">+</text></g></g>
<g class="na" transform="translate(1104,2597) scale(.86,.79)"><ellipse rx="58" ry="43"/><g transform="rotate(-50)"><text class="t" x="-4" y="15">Na</text><text class="t p" x="25" y="-6">+</text></g></g>
<g class="na" transform="translate(1228,2604) scale(.86,.79)"><ellipse rx="58" ry="43"/><g transform="rotate(-60)"><text class="t" x="-4" y="15">Na</text><text class="t p" x="25" y="-6">+</text></g></g>
<g class="na" transform="translate(1346,2572) scale(.86,.79)"><ellipse rx="58" ry="43"/><g transform="rotate(-50)"><text class="t" x="-4" y="15">Na</text><text class="t p" x="25" y="-6">+</text></g></g>
<g class="k" transform="translate(1517,2568) scale(.86,.79)"><ellipse rx="58" ry="43"/><g transform="rotate(-30)"><text class="t" x="-6" y="15">K</text><text class="t p" x="18" y="-6">+</text></g></g>
<g class="na" transform="translate(1647,2556) scale(.86,.79)"><ellipse rx="58" ry="43"/><g transform="rotate(-50)"><text class="t" x="-4" y="15">Na</text><text class="t p" x="25" y="-6">+</text></g></g>
<path d="M1163,2052 Q1150,1952 1050,1930" fill="none" stroke="#2a9d3a" stroke-width="8" stroke-linecap="round"/>
<polygon points="1020,1926 1058,1906 1054,1950" fill="#2a9d3a"/>

<!-- ================= BOX 3 ================= -->
<rect x="302" y="2776" width="1837" height="1113" fill="#fff" stroke="#5a86c6" stroke-width="2"/>
<line x1="302" y1="3889" x2="2139" y2="3889" stroke="#2d5aa6" stroke-width="3"/>
<g clip-path="url(#c3)">
<rect x="302" y="3245" width="1836" height="90" fill="url(#y3)"/>
<rect x="302" y="3182" width="1836" height="48" fill="#1d4db8"/>
<rect x="302" y="3164" width="1836" height="46" fill="url(#b3a)"/>
<rect x="302" y="3201" width="1836" height="46" fill="url(#b3b)"/>
<rect x="302" y="3334" width="1836" height="48" fill="url(#b3c)"/>
</g>
<path d="M995,3195 C995,3080 1293,3080 1293,3195 C1293,3235 1228,3238 1218,3262 L1218,3302 C1240,3318 1295,3322 1295,3362 C1295,3445 995,3445 995,3362 C995,3322 1050,3318 1070,3302 L1070,3262 C1060,3238 995,3235 995,3195 Z" fill="url(#gpump)"/>
<path d="M1010,3188 Q1143,3150 1280,3188" fill="none" stroke="#7aa6ea" stroke-width="6" opacity="0.8"/>
<path d="M1010,3200 Q1143,3240 1280,3200" fill="none" stroke="#2f5cb8" stroke-width="4" opacity="0.7"/>
<g stroke="#8ab2ee" stroke-width="4" opacity="0.6">
<line x1="1110" y1="3250" x2="1110" y2="3320"/><line x1="1140" y1="3250" x2="1140" y2="3330"/><line x1="1170" y1="3250" x2="1170" y2="3320"/><line x1="1198" y1="3255" x2="1198" y2="3315"/>
</g>
<path d="M1010,3360 Q1143,3330 1280,3360" fill="none" stroke="#7aa6ea" stroke-width="5" opacity="0.6"/>
<g fill="none" stroke-linecap="round" stroke-linejoin="round">
<path d="M634,3127 L709,3222 L709,3406" stroke="#5e2470" stroke-width="34"/>
<path d="M825,3127 L744,3222 L744,3406" stroke="#5e2470" stroke-width="34"/>
<path d="M634,3127 L709,3222 L709,3406" stroke="#9a45ad" stroke-width="24"/>
<path d="M825,3127 L744,3222 L744,3406" stroke="#9a45ad" stroke-width="24"/>
<path d="M630,3125 L705,3220 L705,3404" stroke="#c98ad6" stroke-width="7"/>
<path d="M821,3125 L740,3220 L740,3404" stroke="#c98ad6" stroke-width="7"/>
<path d="M1460,3123 L1541,3215 L1541,3402" stroke="#a88400" stroke-width="34"/>
<path d="M1657,3123 L1576,3215 L1576,3402" stroke="#a88400" stroke-width="34"/>
<path d="M1460,3123 L1541,3215 L1541,3402" stroke="#e6c21a" stroke-width="24"/>
<path d="M1657,3123 L1576,3215 L1576,3402" stroke="#e6c21a" stroke-width="24"/>
<path d="M1456,3121 L1537,3213 L1537,3400" stroke="#f7e870" stroke-width="7"/>
<path d="M1653,3121 L1572,3213 L1572,3400" stroke="#f7e870" stroke-width="7"/>
</g>
<text class="sg" x="378" y="3110" textLength="95" lengthAdjust="spacingAndGlyphs">胞外</text>
<text class="sg" x="378" y="3477" textLength="95" lengthAdjust="spacingAndGlyphs">胞内</text>
<line x1="2034" y1="3088" x2="2074" y2="3088" stroke="#333" stroke-width="3"/>
<line x1="2054" y1="3068" x2="2054" y2="3108" stroke="#333" stroke-width="3"/>
<line x1="2040" y1="3450" x2="2080" y2="3450" stroke="#333" stroke-width="3"/>

<g class="na" transform="translate(674,2921) scale(1.12,1.05)"><ellipse rx="58" ry="43"/><g transform="rotate(70)"><text class="t" x="-4" y="15">Na</text><text class="t p" x="25" y="-6">+</text></g></g>
<g class="k" transform="translate(797,2936) scale(1.12,1.05)"><ellipse rx="58" ry="43"/><g transform="rotate(-20)"><text class="t" x="-6" y="15">K</text><text class="t p" x="18" y="-6">+</text></g></g>
<g class="k" transform="translate(924,2892) scale(1.12,1.05)"><ellipse rx="58" ry="43"/><g transform="rotate(-20)"><text class="t" x="-6" y="15">K</text><text class="t p" x="18" y="-6">+</text></g></g>
<g class="k" transform="translate(1287,2866) scale(1.12,1.05)"><ellipse rx="58" ry="43"/><g transform="rotate(-20)"><text class="t" x="-6" y="15">K</text><text class="t p" x="18" y="-6">+</text></g></g>
<g class="k" transform="translate(1429,2936) scale(1.12,1.05)"><ellipse rx="58" ry="43"/><g transform="rotate(-40)"><text class="t" x="-6" y="15">K</text><text class="t p" x="18" y="-6">+</text></g></g>
<g class="k" transform="translate(1429,3025) scale(1.12,1.05)"><ellipse rx="58" ry="43"/><g transform="rotate(-60)"><text class="t" x="-6" y="15">K</text><text class="t p" x="18" y="-6">+</text></g></g>
<g class="k" transform="translate(1615,2977) scale(1.12,1.05)"><ellipse rx="58" ry="43"/><g transform="rotate(-30)"><text class="t" x="-6" y="15">K</text><text class="t p" x="18" y="-6">+</text></g></g>
<g class="na" transform="translate(626,3045) scale(1.12,1.05)"><ellipse rx="58" ry="43"/><g><text class="t" x="-4" y="15">Na</text><text class="t p" x="25" y="-6">+</text></g></g>
<g class="na" transform="translate(792,3051) scale(1.12,1.05)"><ellipse rx="58" ry="43"/><g transform="rotate(-70)"><text class="t" x="-4" y="15">Na</text><text class="t p" x="25" y="-6">+</text></g></g>
<g class="na" transform="translate(1028,3006) scale(1.12,1.05)"><ellipse rx="58" ry="43"/><g transform="rotate(-50)"><text class="t" x="-4" y="15">Na</text><text class="t p" x="25" y="-6">+</text></g></g>
<g class="na" transform="translate(1039,3162) scale(1.12,1.05)"><ellipse rx="58" ry="43"/><g><text class="t" x="-4" y="15">Na</text><text class="t p" x="25" y="-6">+</text></g></g>
<g class="na" transform="translate(1066,3265) scale(1.12,1.05)"><ellipse rx="58" ry="43"/><g transform="rotate(-15)"><text class="t" x="-4" y="15">Na</text><text class="t p" x="25" y="-6">+</text></g></g>
<g class="k" transform="translate(1264,3262) scale(1.12,1.05)"><ellipse rx="58" ry="43"/><g transform="rotate(-10)"><text class="t" x="-6" y="15">K</text><text class="t p" x="18" y="-6">+</text></g></g>
<g class="k" transform="translate(1240,3380) scale(1.12,1.05)"><ellipse rx="58" ry="43"/><g transform="rotate(-20)"><text class="t" x="-6" y="15">K</text><text class="t p" x="18" y="-6">+</text></g></g>
<g class="na" transform="translate(868,3450) scale(1.12,1.05)"><ellipse rx="58" ry="43"/><g transform="rotate(-45)"><text class="t" x="-4" y="15">Na</text><text class="t p" x="25" y="-6">+</text></g></g>
<g class="na" transform="translate(960,3498) scale(1.12,1.05)"><ellipse rx="58" ry="43"/><g><text class="t" x="-4" y="15">Na</text><text class="t p" x="25" y="-6">+</text></g></g>
<g class="na" transform="translate(1456,3461) scale(1.12,1.05)"><ellipse rx="58" ry="43"/><g><text class="t" x="-4" y="15">Na</text><text class="t p" x="25" y="-6">+</text></g></g>
<g class="k" transform="translate(1600,3491) scale(1.12,1.05)"><ellipse rx="58" ry="43"/><g transform="rotate(-40)"><text class="t" x="-6" y="15">K</text><text class="t p" x="18" y="-6">+</text></g></g>
<g class="k" transform="translate(1804,3495) scale(1.12,1.05)"><ellipse rx="58" ry="43"/><g transform="rotate(-20)"><text class="t" x="-6" y="15">K</text><text class="t p" x="18" y="-6">+</text></g></g>
<g class="k" transform="translate(717,3528) scale(1.12,1.05)"><ellipse rx="58" ry="43"/><g transform="rotate(-30)"><text class="t" x="-6" y="15">K</text><text class="t p" x="18" y="-6">+</text></g></g>
<g class="k" transform="translate(1350,3528) scale(1.12,1.05)"><ellipse rx="58" ry="43"/><g transform="rotate(-30)"><text class="t" x="-6" y="15">K</text><text class="t p" x="18" y="-6">+</text></g></g>
<g class="na" transform="translate(839,3583) scale(1.12,1.05)"><ellipse rx="58" ry="43"/><g><text class="t" x="-4" y="15">Na</text><text class="t p" x="25" y="-6">+</text></g></g>
<g class="k" transform="translate(1110,3587) scale(1.12,1.05)"><ellipse rx="58" ry="43"/><g transform="rotate(-30)"><text class="t" x="-6" y="15">K</text><text class="t p" x="18" y="-6">+</text></g></g>
<g class="k" transform="translate(1293,3617) scale(1.12,1.05)"><ellipse rx="58" ry="43"/><g transform="rotate(-60)"><text class="t" x="-6" y="15">K</text><text class="t p" x="18" y="-6">+</text></g></g>
<g class="k" transform="translate(1586,3602) scale(1.12,1.05)"><ellipse rx="58" ry="43"/><g transform="rotate(-30)"><text class="t" x="-6" y="15">K</text><text class="t p" x="18" y="-6">+</text></g></g>
<g class="na" transform="translate(1736,3602) scale(1.12,1.05)"><ellipse rx="58" ry="43"/><g><text class="t" x="-4" y="15">Na</text><text class="t p" x="25" y="-6">+</text></g></g>
<g class="k" transform="translate(721,3672) scale(1.12,1.05)"><ellipse rx="58" ry="43"/><g transform="rotate(-20)"><text class="t" x="-6" y="15">K</text><text class="t p" x="18" y="-6">+</text></g></g>
<g class="k" transform="translate(886,3672) scale(1.12,1.05)"><ellipse rx="58" ry="43"/><g transform="rotate(-30)"><text class="t" x="-6" y="15">K</text><text class="t p" x="18" y="-6">+</text></g></g>
<g class="k" transform="translate(1181,3676) scale(1.12,1.05)"><ellipse rx="58" ry="43"/><g transform="rotate(-30)"><text class="t" x="-6" y="15">K</text><text class="t p" x="18" y="-6">+</text></g></g>
<g class="k" transform="translate(1444,3646) scale(1.12,1.05)"><ellipse rx="58" ry="43"/><g transform="rotate(-40)"><text class="t" x="-6" y="15">K</text><text class="t p" x="18" y="-6">+</text></g></g>
<g class="k" transform="translate(1606,3691) scale(1.12,1.05)"><ellipse rx="58" ry="43"/><g transform="rotate(-30)"><text class="t" x="-6" y="15">K</text><text class="t p" x="18" y="-6">+</text></g></g>
<g class="k" transform="translate(1033,3746) scale(1.12,1.05)"><ellipse rx="58" ry="43"/><g transform="rotate(-30)"><text class="t" x="-6" y="15">K</text><text class="t p" x="18" y="-6">+</text></g></g>
<g class="k" transform="translate(1346,3746) scale(1.12,1.05)"><ellipse rx="58" ry="43"/><g transform="rotate(-30)"><text class="t" x="-6" y="15">K</text><text class="t p" x="18" y="-6">+</text></g></g>
<g class="k" transform="translate(1205,3805) scale(1.12,1.05)"><ellipse rx="58" ry="43"/><g transform="rotate(-30)"><text class="t" x="-6" y="15">K</text><text class="t p" x="18" y="-6">+</text></g></g>
<g fill="none" stroke="#1f9b3a" stroke-width="8" stroke-linecap="round" stroke-linejoin="round">
<path d="M1097,3443 Q1128,3250 1083,3052"/>
<path d="M1062,3082 L1083,3050 L1116,3058"/>
<path d="M1197,3080 Q1202,3270 1150,3470"/>
<path d="M1137,3432 L1149,3472 L1180,3452"/>
</g>
</svg>
</body></html>
